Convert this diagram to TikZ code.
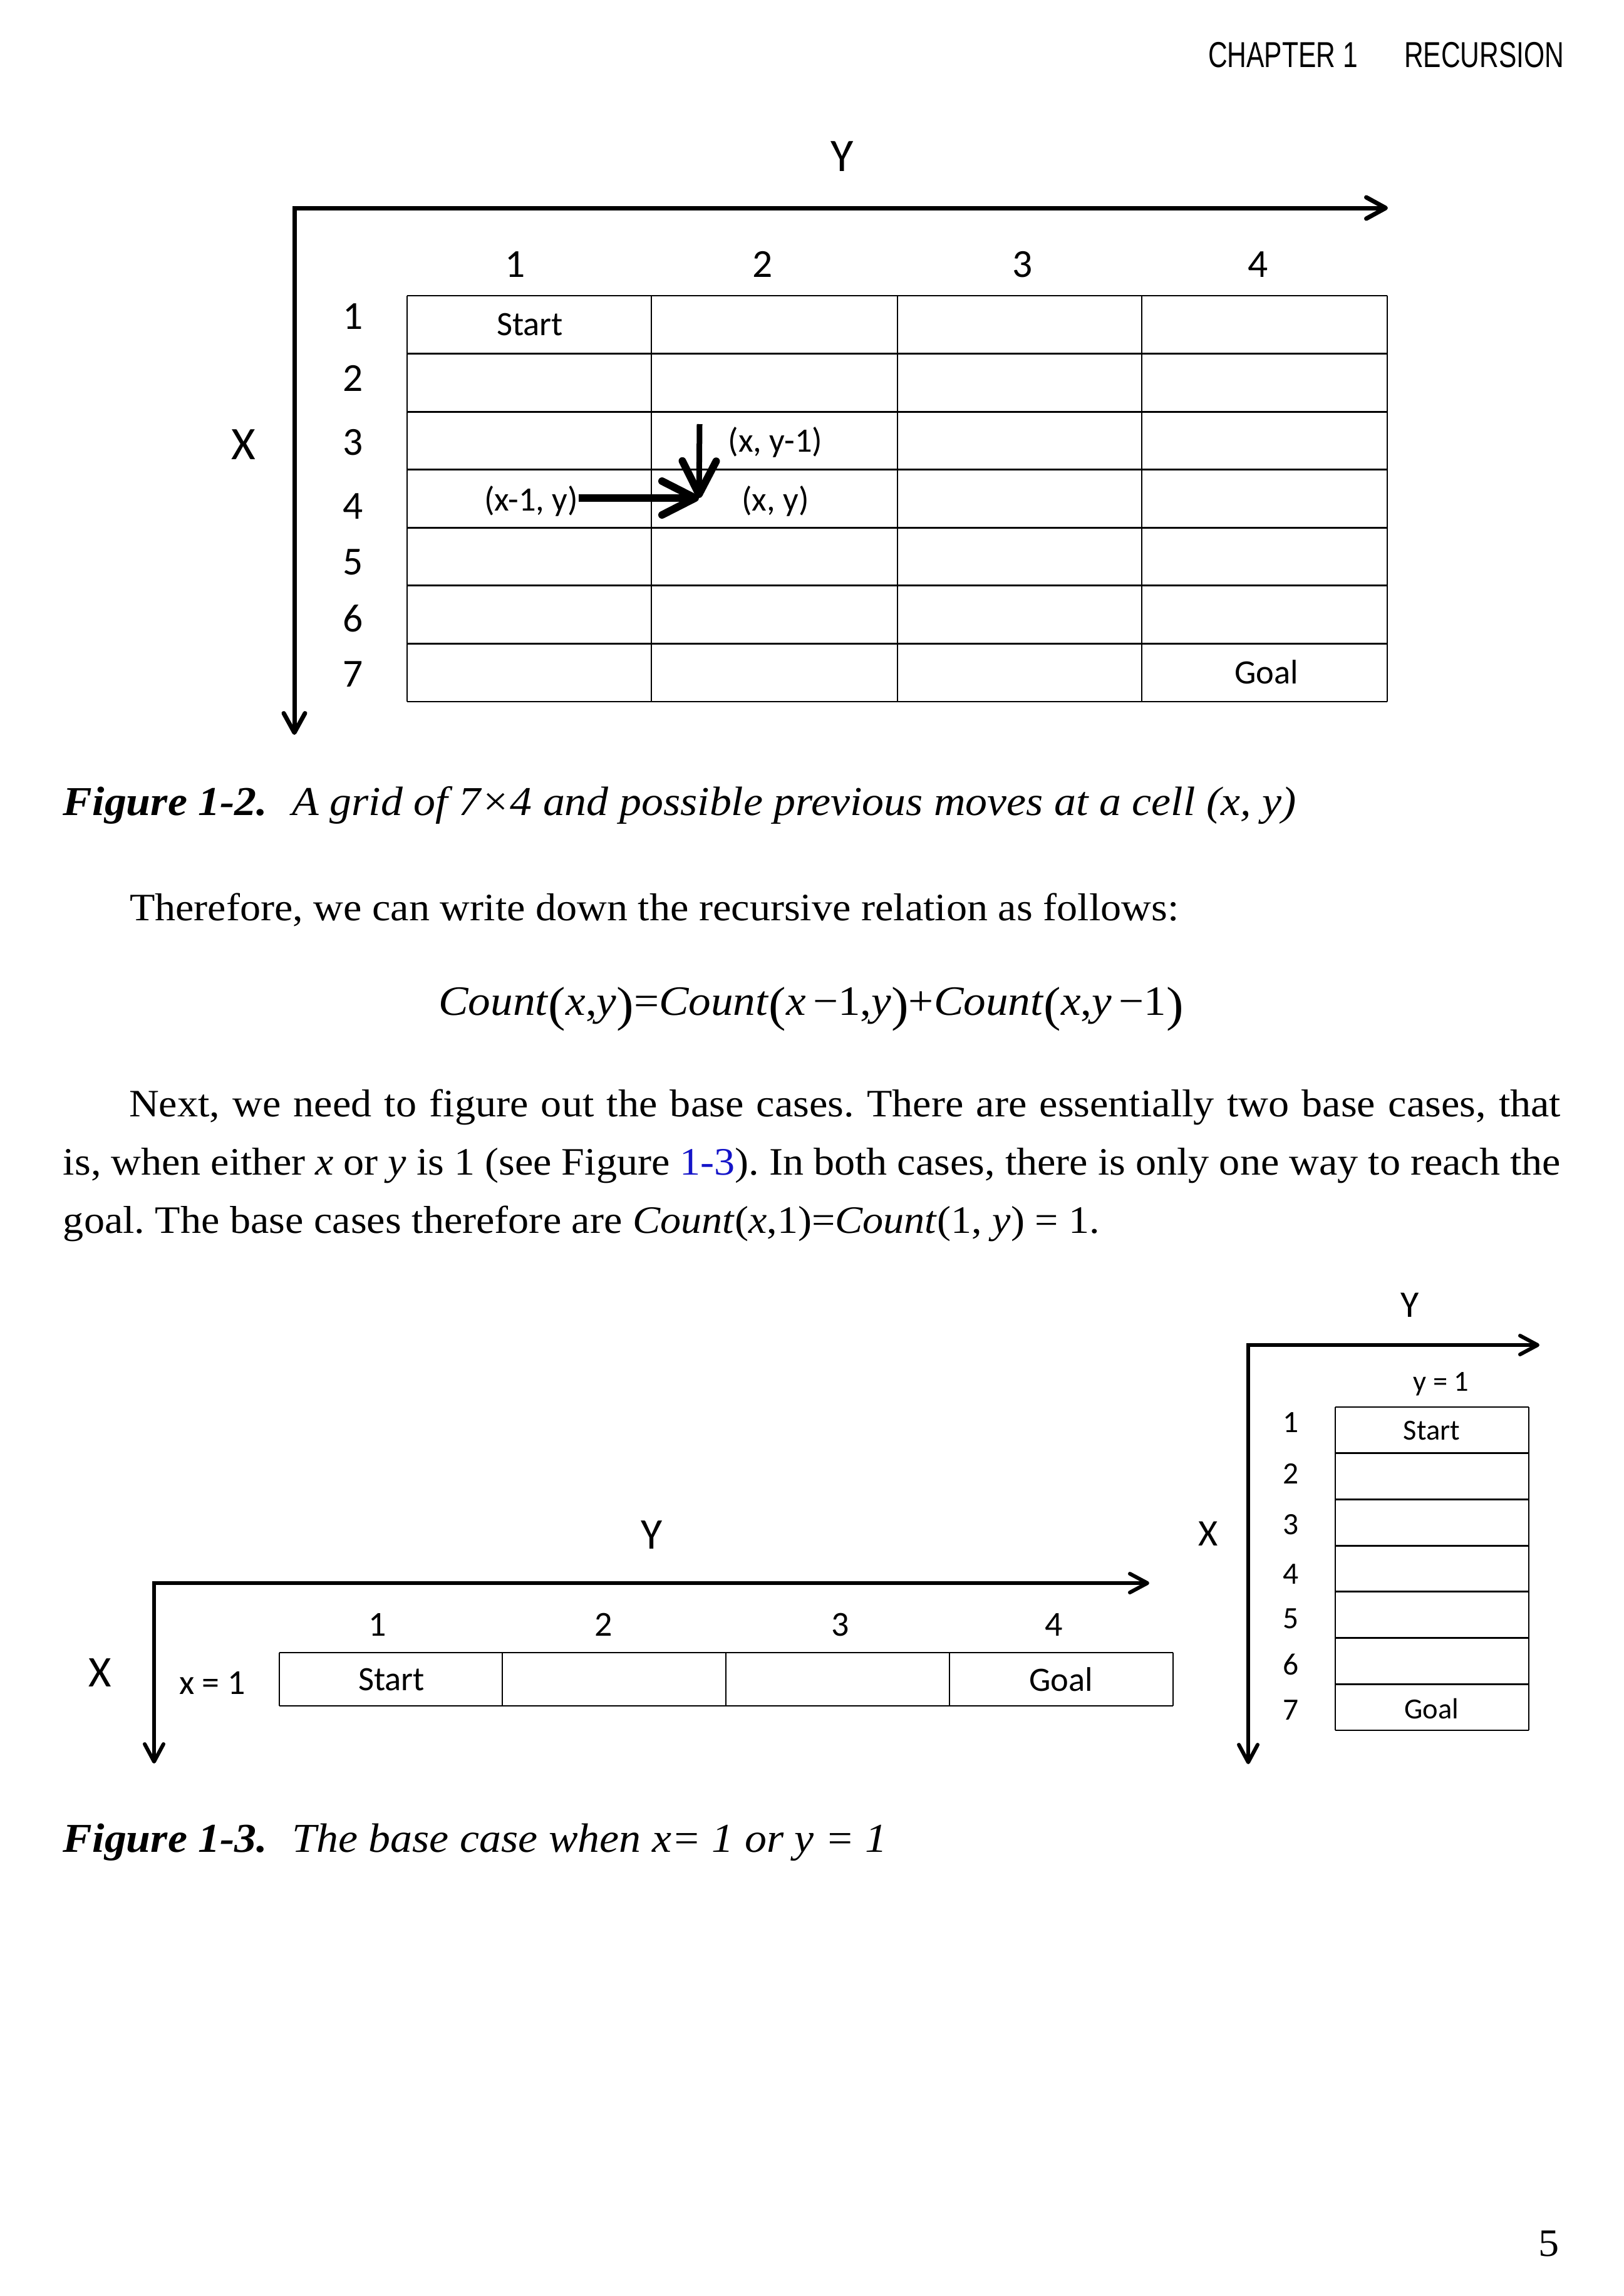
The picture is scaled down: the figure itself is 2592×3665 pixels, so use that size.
\documentclass[tikz,border=0pt]{standalone}
\usepackage{fontspec}
\setmainfont[FakeStretch=1.067]{Liberation Serif}
\usetikzlibrary{arrows.meta}
\newfontfamily\calfont{Carlito}
\newfontfamily\hdrfont[FakeStretch=0.74]{Liberation Sans}
\definecolor{linkblue}{RGB}{20,20,200}
\newcommand{\bigpar}[1]{{\fontsize{15.5}{15}\selectfont\raisebox{-0.12em}{#1}}}
\tikzset{
  bodytext/.style={inner sep=0pt, font=\fontsize{12.4}{14}\selectfont},
  captext/.style={inner sep=0pt, font=\fontsize{13.1}{15}\selectfont\itshape},
  hdr/.style={inner sep=0pt, font=\hdrfont\fontsize{11.5}{13}\selectfont},
  axlabA/.style={inner sep=0pt, font=\calfont\fontsize{14.9}{16}\selectfont},
  numlabA/.style={inner sep=0pt, font=\calfont\fontsize{12.7}{14}\selectfont},
  celllabA/.style={inner sep=0pt, font=\calfont\fontsize{10.9}{12}\selectfont},
  axlabB/.style={inner sep=0pt, font=\calfont\fontsize{14}{16}\selectfont},
  numlabB/.style={inner sep=0pt, font=\calfont\fontsize{11.2}{13}\selectfont},
  celllabB/.style={inner sep=0pt, font=\calfont\fontsize{10.9}{12}\selectfont},
  axlabC/.style={inner sep=0pt, font=\calfont\fontsize{12}{14}\selectfont},
  numlabC/.style={inner sep=0pt, font=\calfont\fontsize{9.9}{12}\selectfont},
  celllabC/.style={inner sep=0pt, font=\calfont\fontsize{9.3}{11}\selectfont},
  gridline/.style={line width=0.55pt},
  axisA/.style={line width=1.4pt,
    {Straight Barb[length=6.2pt,width=6.8pt,round]}-{Straight Barb[length=6.2pt,width=6.8pt,round]}},
  axisB/.style={line width=1.2pt,
    {Straight Barb[length=5.6pt,width=6pt,round]}-{Straight Barb[length=5.6pt,width=6pt,round]}},
  movearrow/.style={-{Straight Barb[length=10.6pt,width=10.8pt,round,line width=2.4pt]}}
}
\begin{document}
\frenchspacing
\begin{tikzpicture}[x=0.2pt,y=-0.2pt]
\fill[white] (0,0) rectangle (2592,3665);
\useasboundingbox (0,0) rectangle (2592,3665);

% header
\node[hdr, anchor=base west] (hchap) at (1928,107) {CHAPTER 1};
\node[hdr, anchor=base west] (hrec) at (2241,107) {RECURSION};

% ---------- Figure 1-2 ----------
\coordinate (A1c) at (470,332);
\coordinate (A1x) at (2216,332);
\coordinate (A1y) at (470,1173);
\draw[axisA] (A1x) -- (A1c) -- (A1y);
\node[axlabA] (Y1) at (1345,250) {Y};
\node[axlabA] (X1) at (389,710) {X};
\foreach \x/\n in {823/1,1218/2,1633/3,2009/4}
  \node[numlabA] (c\n) at (\x,422) {\n};
\foreach \y/\n in {505/1,604/2,706/3,808/4,897/5,987/6,1076/7}
  \node[numlabA] (r\n) at (564,\y) {\n};
\foreach \x in {650,1040,1433,1823,2215}
  \draw[gridline] (\x,472) -- (\x,1120);
\foreach \k in {0,...,7}
  \draw[gridline] (650,472+92.57*\k) -- (2215,472+92.57*\k);
\node[celllabA] (start1) at (846,518) {Start};
\node[celllabA] (goal1) at (2022,1073) {Goal};
\node[celllabA] (xym) at (1238,706) {(x, y-1)};
\node[celllabA] (xy) at (1238,800) {(x, y)};
\node[celllabA] (xmy) at (848,800) {(x-1, y)};
\coordinate (meet) at (1116,795);
\coordinate (vtop) at (1117,677);
\draw[movearrow, line width=2.4pt] (xmy.east |- meet) -- (meet);
\draw[movearrow, line width=1.8pt] (vtop) -- (meet);

\node[captext, anchor=base west] (cap1) at (100,1301)
  {\textbf{Figure 1-2.}\hspace{0.6em}A grid of 7×4 and possible previous moves at a cell (x, y)};

% ---------- body ----------
\node[bodytext, anchor=base west] (t1) at (206,1469)
  {Therefore, we can write down the recursive relation as follows:};
\node[bodytext, anchor=base, font=\fontsize{13.35}{14}\selectfont] (eq) at (1295,1620)
  {\textit{Count}\bigpar{(}\textit{x},\textit{y}\bigpar{)}=\textit{Count}\bigpar{(}\textit{x}\,−1,\textit{y}\bigpar{)}+\textit{Count}\bigpar{(}\textit{x},\textit{y}\,−1\bigpar{)}};
\node[bodytext, anchor=base west] (p1) at (205,1782)
  {\makebox[457.2pt][s]{Next, we need to figure out the base cases. There are essentially two base cases, that}};
\node[bodytext, anchor=base west] (p2) at (100,1875)
  {\makebox[478.2pt][s]{is, when either \textit{x} or \textit{y} is 1 (see Figure \textcolor{linkblue}{1-3}). In both cases, there is only one way to reach the}};
\node[bodytext, anchor=base west] (p3) at (100,1968)
  {goal. The base cases therefore are \textit{Count}(\textit{x},1)=\textit{Count}(1, \textit{y}) = 1.};

% ---------- Figure 1-3 left ----------
\coordinate (B1c) at (246,2527);
\coordinate (B1x) at (1835,2527);
\coordinate (B1y) at (246,2815);
\draw[axisB] (B1x) -- (B1c) -- (B1y);
\node[axlabB] (Y2) at (1041,2450) {Y};
\node[axlabB] (X2) at (160,2670) {X};
\node[numlabB] (xeq) at (339,2686) {x = 1};
\foreach \x/\n in {603/1,964/2,1342/3,1683/4}
  \node[numlabB] (d\n) at (\x,2593) {\n};
\foreach \x in {446,802,1159,1516,1873}
  \draw[gridline] (\x,2638) -- (\x,2723);
\draw[gridline] (446,2638) -- (1873,2638);
\draw[gridline] (446,2723) -- (1873,2723);
\node[celllabB] (start2) at (625,2681) {Start};
\node[celllabB] (goal2) at (1694,2681) {Goal};

% ---------- Figure 1-3 right ----------
\coordinate (C1c) at (1993,2147);
\coordinate (C1x) at (2458,2147);
\coordinate (C1y) at (1993,2816);
\draw[axisB] (C1x) -- (C1c) -- (C1y);
\node[axlabC] (Y3) at (2251,2083) {Y};
\node[axlabC] (X3) at (1929,2448) {X};
\node[celllabC] (yeq) at (2301,2209) {y = 1};
\foreach \y/\n in {2271/1,2352/2,2434/3,2513/4,2584/5,2657/6,2730/7}
  \node[numlabC] (e\n) at (2061,\y) {\n};
\draw[gridline] (2132,2246) -- (2132,2762);
\draw[gridline] (2441,2246) -- (2441,2762);
\foreach \k in {0,...,7}
  \draw[gridline] (2132,2246+73.71*\k) -- (2441,2246+73.71*\k);
\node[celllabC] (start3) at (2286,2284) {Start};
\node[celllabC] (goal3) at (2286,2727) {Goal};

\node[captext, anchor=base west] (cap2) at (100,2956)
  {\textbf{Figure 1-3.}\hspace{0.6em}The base case when x= 1 or y = 1};

% page number
\node[bodytext, anchor=base east] (pg) at (2491,3601) {5};
\end{tikzpicture}
\end{document}
